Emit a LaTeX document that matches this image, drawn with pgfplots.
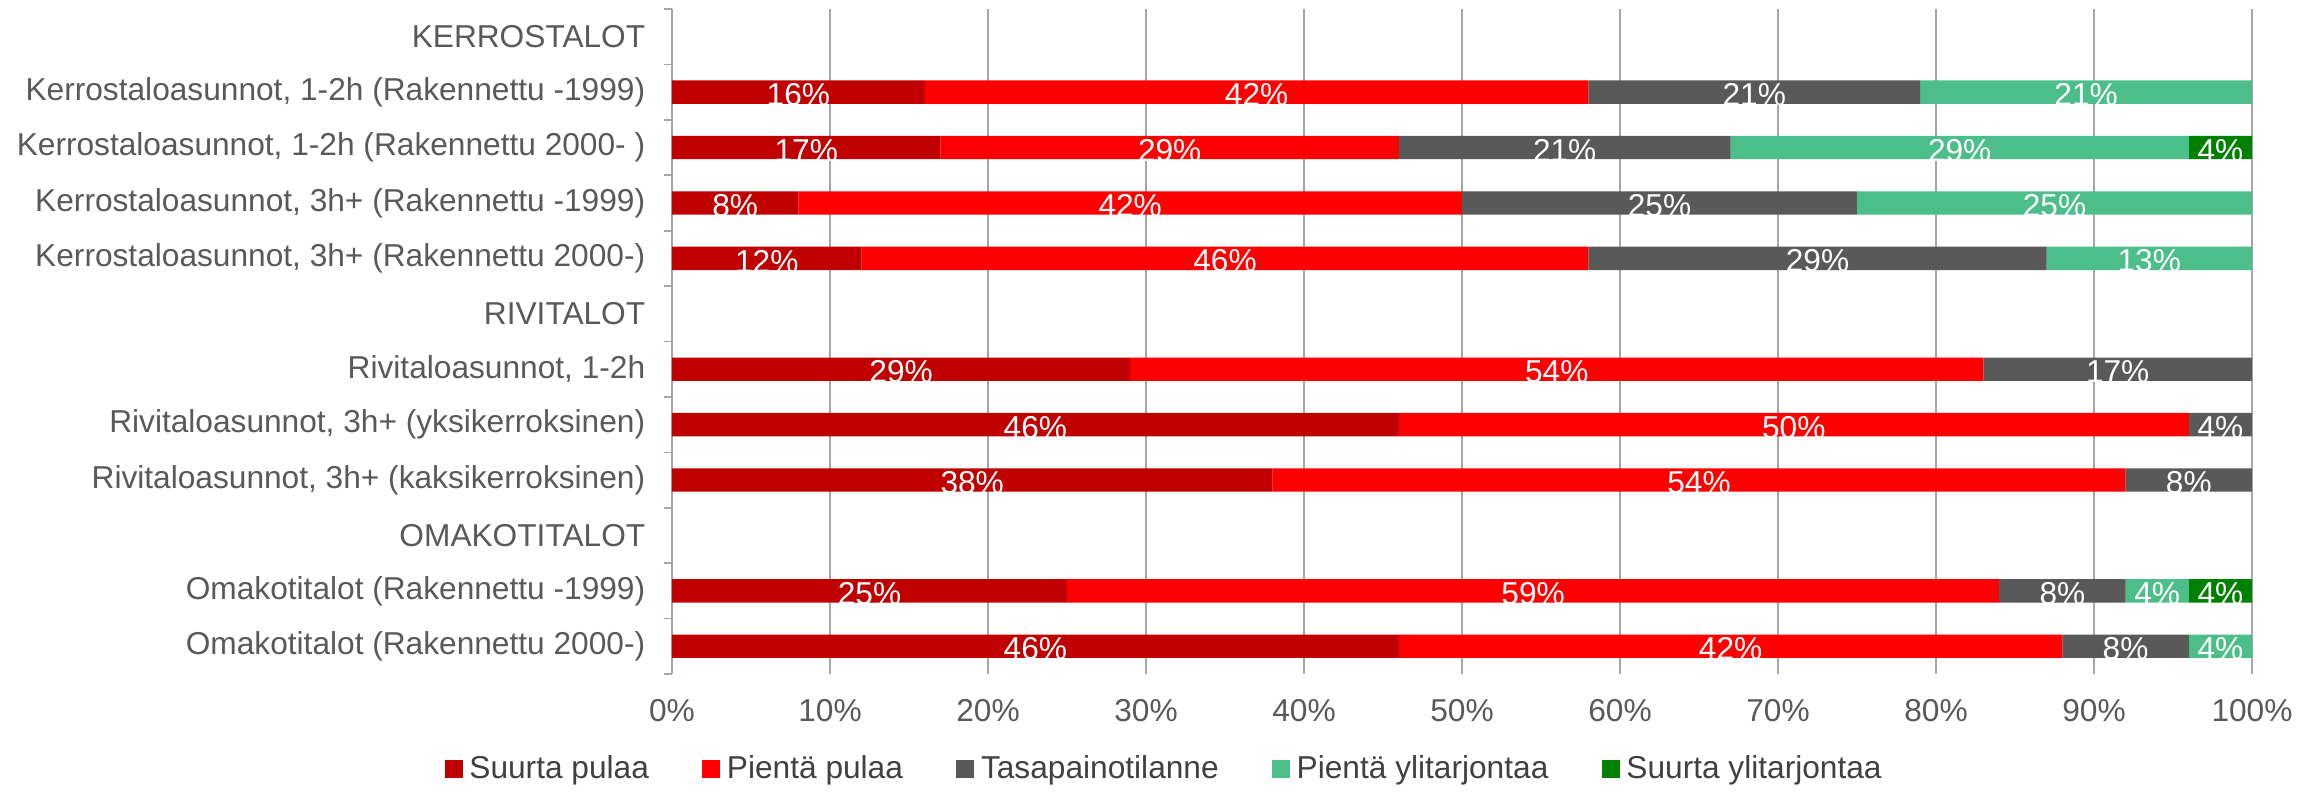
\documentclass[border=0pt]{standalone}
\usepackage{fontspec}
\setmainfont{Liberation Sans}
\usepackage{pgfplots}
\usepackage{pgfplotstable}
\pgfplotsset{compat=1.18}

\definecolor{cSP}{HTML}{C00000}
\definecolor{cPP}{HTML}{FF0000}
\definecolor{cTA}{HTML}{595959}
\definecolor{cPY}{HTML}{4BBE8A}
\definecolor{cSY}{HTML}{008000}
\definecolor{gridc}{HTML}{A6A6A6}
\definecolor{labc}{HTML}{595959}
\definecolor{legc}{HTML}{404040}

% rows 0, 5, 9 are group headers (no bars)
\pgfplotstableread{
row a  b  c  d  e
0   0  0  0  0  0
1   16 42 21 21 0
2   17 29 21 29 4
3   8  42 25 25 0
4   12 46 29 13 0
5   0  0  0  0  0
6   29 54 17 0  0
7   46 50 4  0  0
8   38 54 8  0  0
9   0  0  0  0  0
10  25 59 8  4  4
11  46 42 8  4  0
}\datatable
% segment centres for the labels
\pgfplotstablecreatecol[create col/expr={\thisrow{a}/2}]{ma}\datatable
\pgfplotstablecreatecol[create col/expr={\thisrow{a}+\thisrow{b}/2}]{mb}\datatable
\pgfplotstablecreatecol[create col/expr={\thisrow{a}+\thisrow{b}+\thisrow{c}/2}]{mc}\datatable
\pgfplotstablecreatecol[create col/expr={\thisrow{a}+\thisrow{b}+\thisrow{c}+\thisrow{d}/2}]{md}\datatable
\pgfplotstablecreatecol[create col/expr={\thisrow{a}+\thisrow{b}+\thisrow{c}+\thisrow{d}+\thisrow{e}/2}]{me}\datatable

\pgfplotsset{
  frame/.style={at={(0,0)}, anchor=south west,
    scale only axis, width=474pt, height=199.5pt,
    xmin=0, xmax=100, ymin=-0.5, ymax=11.5, y dir=reverse,
    /pgf/number format/assume math mode=true},
}

\begin{document}
\begin{tikzpicture}[font=\fontsize{9.5}{11}\selectfont]
\begin{axis}[
    frame,
    xbar stacked, bar width=0.42,
    axis y line*=left, axis x line*=bottom,
    x axis line style={draw=none},
    y axis line style={draw=gridc, line width=0.5pt, -},
    xtick={0,10,...,100},
    xticklabel={\pgfmathprintnumber{\tick}\%},
    xmajorgrids, grid style={draw=gridc, line width=0.5pt},
    major tick length=0pt,
    tick style={draw=gridc, line width=0.5pt},
    ytick={0,...,11},
    yticklabels={KERROSTALOT,
        {Kerrostaloasunnot, 1-2h (Rakennettu -1999)},
        {Kerrostaloasunnot, 1-2h (Rakennettu 2000- )},
        {Kerrostaloasunnot, 3h+ (Rakennettu -1999)},
        {Kerrostaloasunnot, 3h+ (Rakennettu 2000-)},
        RIVITALOT,
        {Rivitaloasunnot, 1-2h},
        {Rivitaloasunnot, 3h+ (yksikerroksinen)},
        {Rivitaloasunnot, 3h+ (kaksikerroksinen)},
        OMAKOTITALOT,
        {Omakotitalot (Rakennettu -1999)},
        {Omakotitalot (Rakennettu 2000-)}},
    extra y ticks={-0.5,0.5,...,11.5},
    extra y tick labels={},
    extra y tick style={major tick length=2.5pt, tick align=outside},
    ticklabel style={text=labc},
    xticklabel style={yshift=-4pt},
    yticklabel style={xshift=-4.5pt},
    legend style={at={(0.313,-0.143)}, anchor=center, draw=none, fill=none,
        text=legc, /tikz/every even column/.append style={column sep=14pt}},
    legend columns=5,
    legend image code/.code={\fill[#1] (0pt,-2.7pt) rectangle (5.4pt,2.7pt);},
]
\addplot[fill=cSP, draw=none] table[x=a, y=row] {\datatable};
\addplot[fill=cPP, draw=none] table[x=b, y=row] {\datatable};
\addplot[fill=cTA, draw=none] table[x=c, y=row] {\datatable};
\addplot[fill=cPY, draw=none] table[x=d, y=row] {\datatable};
\addplot[fill=cSY, draw=none] table[x=e, y=row] {\datatable};
\legend{Suurta pulaa, Pientä pulaa, Tasapainotilanne, Pientä ylitarjontaa, Suurta ylitarjontaa}
\end{axis}
% value labels, centred in each segment
\begin{axis}[
    frame, hide axis, clip=false,
    point meta=explicit,
    nodes near coords={\pgfmathfloatifflags{\pgfplotspointmeta}{0}{}{\pgfmathprintnumber{\pgfplotspointmeta}\%}},
    every node near coord/.append style={text=white, anchor=center, yshift=-0.8pt},
]
\addplot[draw=none, mark=none] table[x=ma, y=row, meta=a] {\datatable};
\addplot[draw=none, mark=none] table[x=mb, y=row, meta=b] {\datatable};
\addplot[draw=none, mark=none] table[x=mc, y=row, meta=c] {\datatable};
\addplot[draw=none, mark=none] table[x=md, y=row, meta=d] {\datatable};
\addplot[draw=none, mark=none] table[x=me, y=row, meta=e] {\datatable};
\end{axis}
\pgfresetboundingbox
\path (-201.6pt,-35.4pt) rectangle (487.5pt,202.2pt);
\end{tikzpicture}
\end{document}
